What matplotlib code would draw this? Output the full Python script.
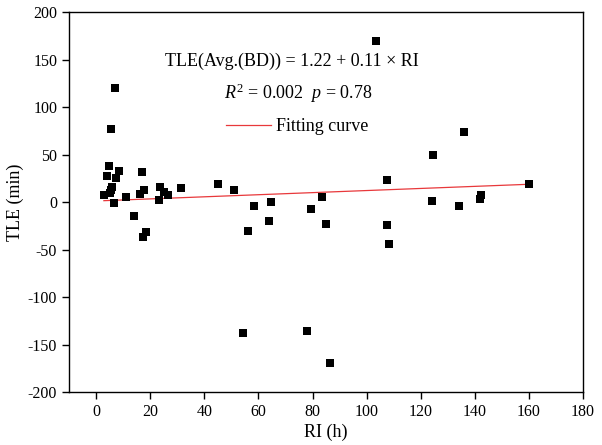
import numpy as np
import matplotlib
matplotlib.use('Agg')
import matplotlib.pyplot as plt

# RI (h) and TLE (min)
ri = [2.9, 4.1, 4.8, 5.0, 5.4, 6.0, 5.7, 7.2, 6.6, 7.1, 8.5, 11.0, 14.0, 16.4,
      16.9, 17.4, 17.8, 18.3, 23.4, 23.7, 25.1, 26.7, 31.4, 45.1, 51.1, 54.2,
      56.3, 58.4, 64.1, 64.5, 78.0, 79.5, 83.5, 84.9, 86.6, 103.4, 107.4,
      107.6, 108.4, 124.0, 124.5, 134.3, 135.9, 141.8, 142.4, 159.9]
tle = [7.4, 27.9, 38.5, 10.0, 12.7, 16.3, 77.5, 25.0, -1.4, 120.7, 33.0, 5.7,
       -14.4, 8.9, 31.7, -36.5, 12.4, -31.2, 1.8, 15.9, 10.6, 7.1, 15.2, 19.4,
       13.1, -138.0, -29.9, -4.2, -19.7, 0.0, -135.6, -7.0, 5.7, -23.3, -169.0,
       170.2, 22.9, -23.6, -44.0, 1.0, 50.1, -3.8, 73.7, 2.9, 7.1, 18.7]

# fit from the equation in the chart
intercept = 1.22
slope = 0.11

xticks = [0, 20, 40, 60, 80, 100, 120, 140, 160, 180]
yticks = [-200, -150, -100, -50, 0, 50, 100, 150, 200]

plt.rcParams['font.family'] = ['Liberation Serif', 'DejaVu Serif']
plt.rcParams['mathtext.fontset'] = 'custom'
plt.rcParams['mathtext.rm'] = 'Liberation Serif'
plt.rcParams['mathtext.it'] = 'Liberation Serif:italic'
plt.rcParams['axes.unicode_minus'] = False

fig = plt.figure(figsize=(6.02, 4.45), dpi=100)
ax = fig.add_axes([0.1146, 0.1191, 0.854, 0.8533])

ax.scatter(ri, tle, marker='s', s=40, color='black', linewidths=0, zorder=3)

xfit = np.linspace(min(ri), max(ri), 50)
ax.plot(xfit, intercept + slope * xfit, color='#e8383b', lw=0.9,
        label='Fitting curve', zorder=2)

ax.set_xlim(-10, 180)
ax.set_ylim(-200, 200)
ax.set_xticks(xticks)
ax.set_yticks(yticks)
ax.tick_params(direction='out', length=5, width=1, labelsize=11.5)
for sp in ax.spines.values():
    sp.set_linewidth(1.0)

ax.set_xlabel('RI (h)', fontsize=13, labelpad=3)
ax.set_ylabel('TLE (min)', fontsize=13, labelpad=3)

ax.text(72.4, 148, 'TLE(Avg.(BD)) = 1.22 + 0.11 \u00d7 RI', fontsize=13,
        ha='center', va='center')
ax.text(74.6, 114.6, r'$R^2$ = 0.002  $p$ = 0.78', fontsize=13,
        ha='center', va='center')

ax.legend(loc='center left', bbox_to_anchor=(0.3054, 0.6987), frameon=False,
          borderpad=0, borderaxespad=0, handlelength=2.5, handletextpad=0.25,
          fontsize=13)

fig.savefig('out.png', dpi=100)
